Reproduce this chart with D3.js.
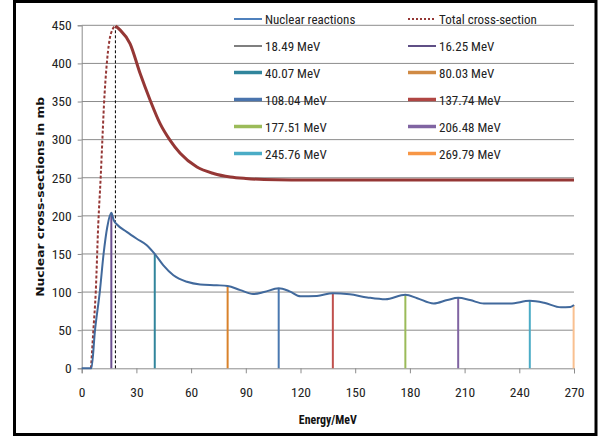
<!DOCTYPE html>
<html><head><meta charset="utf-8">
<script src="https://cdn.jsdelivr.net/npm/d3@7"></script>
<style>
html,body{margin:0;padding:0;background:#fff;}
svg{display:block;}
.narrow{font-family:"Liberation Sans Narrow","Arial Narrow","Roboto Condensed",sans-serif;}
</style></head>
<body>
<svg id="chart" width="598" height="436"></svg>
<script>
// ---- data ----
const nuclearX = [0, 5.3, 7.3, 10, 12, 14, 16.25, 17.6, 19.2, 24.7, 30.2, 35.7, 40.07, 44.8, 50.3, 57.7, 65, 74, 80.03, 87, 94, 100, 108.04, 114, 120, 129, 137.74, 147, 156.6, 166.6, 177.51, 184, 193, 200.5, 206.48, 213, 220.6, 235, 245.76, 253.6, 262.8, 268, 270];
const nuclearY = [0, 0, 50, 102, 150, 185, 204, 194, 189, 179, 170, 161.5, 150, 135, 122, 113.5, 110, 109, 108, 102.6, 97.5, 100, 105, 101, 94.5, 95, 98.5, 97, 93, 90.5, 96.5, 92, 85, 89.5, 92.5, 89.5, 85, 85, 88.5, 86, 80, 80.5, 83];

const totalRiseX = [5.1, 6.4, 7.7, 9.1, 10.4, 11.3, 12.2, 13.7, 15.2, 17.0, 18.49];
const totalRiseY = [0, 50, 100, 190, 250, 298, 345, 398, 430, 445, 449];
const totalFallX = [18.49, 21, 26.5, 32, 37.5, 43, 48.5, 54, 63.2, 72.3, 81.5, 90, 100, 130, 180, 230, 270];
const totalFallY = [449, 444, 426, 387, 352, 321, 299, 282, 264, 255.6, 251, 249, 247.7, 247, 247, 247, 247];

const markerEnergies = [18.49, 16.25, 40.07, 80.03, 108.04, 137.74, 177.51, 206.48, 245.76, 269.79];
const markerTops     = [449, 204, 150, 108, 105, 98.5, 96.5, 92.5, 88.5, 83];
const markerLabels   = ["18.49 MeV", "16.25 MeV", "40.07 MeV", "80.03 MeV", "108.04 MeV", "137.74 MeV", "177.51 MeV", "206.48 MeV", "245.76 MeV", "269.79 MeV"];
const markerColors   = ["#000000", "#6a4f8f", "#31859c", "#d9822b", "#4a78b0", "#c0504d", "#9bbb59", "#8064a2", "#4bacc6", "#f9c090"];
const legendColors   = ["#7f7f7f", "#5f4f85", "#31859c", "#d08a44", "#4a74ad", "#b04643", "#9bbb59", "#8064a2", "#4bacc6", "#f79646"];

const xTicks = [0, 30, 60, 90, 120, 150, 180, 210, 240, 270];
const yTicks = [0, 50, 100, 150, 200, 250, 300, 350, 400, 450];

const seriesNames = ["Nuclear reactions", "Total cross-section"];
const xTitle = "Energy/MeV";
const yTitle = "Nuclear cross-sections in mb";

// ---- drawing ----
const svg = d3.select("#chart");
const x = d3.scaleLinear().domain([0, 270]).range([81.7, 574]);
const y = d3.scaleLinear().domain([0, 450]).range([368.3, 25.3]);

// frame
svg.append("rect").attr("x", 14.5).attr("y", 1.5).attr("width", 581.5).attr("height", 433)
  .attr("fill", "none").attr("stroke", "#000").attr("stroke-width", 3);

// gridlines
svg.append("g").selectAll("line").data(yTicks.filter(d => d > 0)).join("line")
  .attr("x1", x(0)).attr("x2", x(270)).attr("y1", d => y(d)).attr("y2", d => y(d))
  .attr("stroke", "#8c8c8c").attr("stroke-width", 1);

// y axis
const yAxis = svg.append("g").attr("transform", `translate(${x(0)},0)`)
  .call(d3.axisLeft(y).tickValues(yTicks).tickSize(4).tickPadding(6).tickFormat(d3.format("d")));
yAxis.select(".domain").attr("stroke", "#8c8c8c");
yAxis.selectAll(".tick line").attr("stroke", "#8c8c8c");
yAxis.selectAll("text").attr("class", "narrow").attr("font-size", 13.5).attr("fill", "#222");

// x axis
const xAxis = svg.append("g").attr("transform", `translate(0,${y(0)})`)
  .call(d3.axisBottom(x).tickValues(xTicks).tickSize(5).tickPadding(14).tickFormat(d3.format("d")));
xAxis.select(".domain").attr("stroke", "#8c8c8c");
xAxis.selectAll(".tick line").attr("stroke", "#8c8c8c");
xAxis.selectAll("text").attr("class", "narrow").attr("font-size", 13.5).attr("fill", "#222");

// titles
svg.append("text").attr("transform", `translate(44,${(y(0) + y(450)) / 2}) rotate(-90)`)
  .attr("text-anchor", "middle").attr("font-family", "DejaVu Sans").attr("font-weight", "bold")
  .attr("font-size", 10.5).attr("textLength", 200).attr("lengthAdjust", "spacingAndGlyphs").attr("fill", "#111").text(yTitle);
svg.append("text").attr("x", (x(0) + x(270)) / 2).attr("y", 424).attr("text-anchor", "middle")
  .attr("class", "narrow").attr("font-weight", "bold").attr("font-size", 13)
  .attr("textLength", 58).attr("lengthAdjust", "spacingAndGlyphs").attr("fill", "#111").text(xTitle);

// marker vertical lines
const markers = markerEnergies.map((e, i) => ({e, top: markerTops[i], c: markerColors[i], i}));
svg.append("g").selectAll("line").data(markers).join("line")
  .attr("x1", d => x(d.e)).attr("x2", d => x(d.e))
  .attr("y1", y(0)).attr("y2", d => y(d.top))
  .attr("stroke", d => d.c)
  .attr("stroke-width", d => d.i === 0 ? 1 : 2)
  .attr("stroke-dasharray", d => d.i === 0 ? "3,2" : null);

// curves
const lineGen = d3.line().x(d => x(d[0])).y(d => y(d[1])).curve(d3.curveMonotoneX);
svg.append("path").datum(d3.zip(totalRiseX, totalRiseY)).attr("d", lineGen)
  .attr("fill", "none").attr("stroke", "#953735").attr("stroke-width", 2).attr("stroke-dasharray", "3,2");
svg.append("path").datum(d3.zip(totalFallX, totalFallY)).attr("d", lineGen)
  .attr("fill", "none").attr("stroke", "#953735").attr("stroke-width", 3);
svg.append("path").datum(d3.zip(nuclearX, nuclearY)).attr("d", lineGen)
  .attr("fill", "none").attr("stroke", "#41699c").attr("stroke-width", 2);

// legend
const legendItems = [
  {label: seriesNames[0], color: "#4f81bd", w: 2, dash: null},
  {label: seriesNames[1], color: "#953735", w: 2, dash: "2,2"}
].concat(markerLabels.map((l, i) => ({label: l, color: legendColors[i], w: i < 2 ? 2 : 3.5, dash: null})));
const rowY = [19, 46, 72.5, 99.5, 126.5, 153.5];
const colX = [234, 408];
const lg = svg.append("g").selectAll("g").data(legendItems).join("g")
  .attr("transform", (d, i) => `translate(${colX[i % 2]},${rowY[Math.floor(i / 2)]})`);
lg.append("line").attr("x1", 0).attr("x2", d => d.dash ? 26 : 28).attr("y1", 0).attr("y2", 0)
  .attr("stroke", d => d.color).attr("stroke-width", d => d.w).attr("stroke-dasharray", d => d.dash);
lg.append("text").attr("x", 31).attr("y", 5).attr("class", "narrow").attr("font-size", 13)
  .attr("fill", "#222").text(d => d.label);
</script>
</body></html>
